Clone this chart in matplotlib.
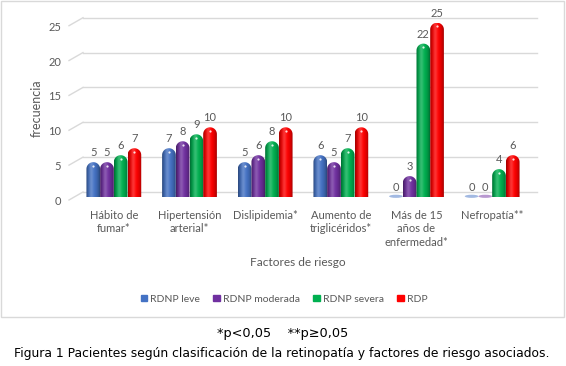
import numpy as np
import matplotlib
matplotlib.use("Agg")
import matplotlib.pyplot as plt
from matplotlib.patches import Rectangle, Patch, PathPatch, Ellipse
from matplotlib.path import Path
import matplotlib.transforms as mtransforms
from matplotlib.colors import to_rgb

# ---------------- data ----------------
categories = ["Hábito de\nfumar*", "Hipertensión\narterial*", "Dislipidemia*",
              "Aumento de\ntriglicéridos*", "Más de 15\naños de\nenfermedad*", "Nefropatía**"]
series_names = ["RDNP leve", "RDNP moderada", "RDNP severa", "RDP"]
rdnp_leve = [5, 7, 5, 6, 0, 0]
rdnp_moderada = [5, 8, 6, 5, 3, 0]
rdnp_severa = [6, 9, 8, 7, 22, 4]
rdp = [7, 10, 10, 10, 25, 6]
y_ticks = [0, 5, 10, 15, 20, 25]
series_colors = ["#4472C4", "#7030A0", "#00B050", "#FF0000"]
x_title = "Factores de riesgo"
y_title = "frecuencia"
note = "*p<0,05    **p≥0,05"
caption = "Figura 1 Pacientes según clasificación de la retinopatía y factores de riesgo asociados."

series = [rdnp_leve, rdnp_moderada, rdnp_severa, rdp]

# ---------------- layout ----------------
W, H = 566, 366
fig = plt.figure(figsize=(W / 100, H / 100), dpi=100)
fig.patch.set_facecolor("white")

def fx(x):
    return x / W

def fy(y):
    return 1 - y / H

ax_left, ax_right, ax_top, ax_bottom = 76, 530, 22.7, 197
ax = fig.add_axes([fx(ax_left), fy(ax_bottom), (ax_right - ax_left) / W, (ax_bottom - ax_top) / H])
n = len(categories)
ymax = y_ticks[-1]
ax.set_xlim(-0.5, n - 0.5)
ax.set_ylim(0, ymax)
ax.patch.set_visible(False)
for s in ax.spines.values():
    s.set_visible(False)

TXT = "#595959"
FONT = ["Lato", "DejaVu Sans"]
GRID = "#d9d9d9"

px_x = (ax_right - ax_left) / n
px_y = (ax_bottom - ax_top) / ymax

# gridlines (back wall, shifted up) and slanted stubs
blend = mtransforms.blended_transform_factory(fig.transFigure, ax.transData)
up = 5 / px_y
down = 4.5 / px_y
for t in y_ticks:
    ax.plot([fx(83), fx(537)], [t + up, t + up], color=GRID, lw=1, transform=blend,
            clip_on=False, zorder=0)
    ax.plot([fx(69), fx(83)], [t - down + 1.5 / px_y, t + up], color=GRID, lw=1,
            transform=blend, clip_on=False, zorder=0)
    ax.text(fx(61), t - down, str(t), ha="right", va="center", fontsize=8, color=TXT,
            family=FONT, transform=blend, clip_on=False)

# ---------------- bars (cylinders) ----------------
bw = 0.181
rx = bw / 2
ry = rx * px_x / px_y
tt = np.linspace(0, 1, 64)

def shade(color):
    base = np.array(to_rgb(color))
    dark = 0.6 + 0.4 * np.sin(np.pi * tt) ** 0.7
    hl = 0.2 * np.exp(-((tt - 0.38) / 0.16) ** 2)
    cols = base[None, :] * dark[:, None]
    cols = cols * (1 - hl[:, None]) + hl[:, None]
    return np.clip(cols, 0, 1)[None, :, :]

x = np.arange(n)
for i, (vals, col) in enumerate(zip(series, series_colors)):
    img = shade(col)
    for j, v in enumerate(vals):
        xc = x[j] + (i - 1.5) * bw
        x0, x1 = xc - bw / 2, xc + bw / 2
        if v > 0:
            cap = min(ry, v)
            yc = v - cap
            ang = np.linspace(0, np.pi, 40)
            arc = np.column_stack([xc + rx * np.cos(ang), yc + cap * np.sin(ang)])
            verts = np.vstack([[x0, 0], [x1, 0], [x1, yc], arc, [x0, yc], [x0, 0]])
            codes = [Path.MOVETO] + [Path.LINETO] * (len(verts) - 2) + [Path.CLOSEPOLY]
            pp = PathPatch(Path(verts, codes), facecolor="none", edgecolor="none")
            ax.add_patch(pp)
            im = ax.imshow(img, extent=(x0, x1, 0, v), aspect="auto", zorder=2,
                           interpolation="bilinear")
            im.set_clip_path(pp)
            ax.plot(xc, v - cap * 0.55, "o", ms=1.6, color="white", alpha=0.85,
                    mec="none", zorder=3)
        else:
            base = np.array(to_rgb(col))
            pale = base * 0.5 + 0.5
            ax.add_patch(Ellipse((xc, 0.1), bw, 0.45, facecolor=pale, edgecolor="none",
                                 zorder=2, clip_on=False))
        ax.annotate(str(v), (xc, v), xytext=(0, 4), textcoords="offset pixels",
                    ha="center", va="bottom", fontsize=8, color=TXT, family=FONT,
                    annotation_clip=False)

ax.set_xlim(-0.5, n - 0.5)
ax.set_ylim(0, ymax)
ax.set_yticks([])
ax.set_xticks(x)
ax.set_xticklabels(categories, fontsize=8, color=TXT, family=FONT, linespacing=1.25,
                   va="top")
ax.tick_params(axis="x", length=0, pad=9.5)

# titles
fig.text(fx(37), fy(108), y_title, rotation=90, ha="center", va="center", fontsize=9,
         color=TXT, family=FONT)
fig.text(fx(298), fy(263), x_title, ha="center", va="center", fontsize=8.6, color=TXT,
         family=FONT)

# legend
handles = [Patch(facecolor=c, edgecolor=c) for c in series_colors]
leg = fig.legend(handles, series_names, loc="center", bbox_to_anchor=(fx(284), fy(299)),
                 ncol=4, frameon=False, handlelength=0.6, handleheight=0.6,
                 handletextpad=0.3, columnspacing=1.3,
                 prop={"family": FONT, "size": 7.5})
for t in leg.get_texts():
    t.set_color(TXT)

# chart border
fig.add_artist(Rectangle((fx(0.5), fy(317)), fx(564) - fx(0.5), fy(0.5) - fy(317),
                         transform=fig.transFigure, fill=False, edgecolor=GRID, lw=1))

# footer
fig.text(fx(283), fy(333), note, ha="center", va="center", fontsize=9.3, color="black",
         family="DejaVu Sans")
fig.text(fx(282), fy(354), caption, ha="center", va="center", fontsize=8.95, color="black",
         family="DejaVu Sans")

fig.savefig("out.png", dpi=100, facecolor="white")
